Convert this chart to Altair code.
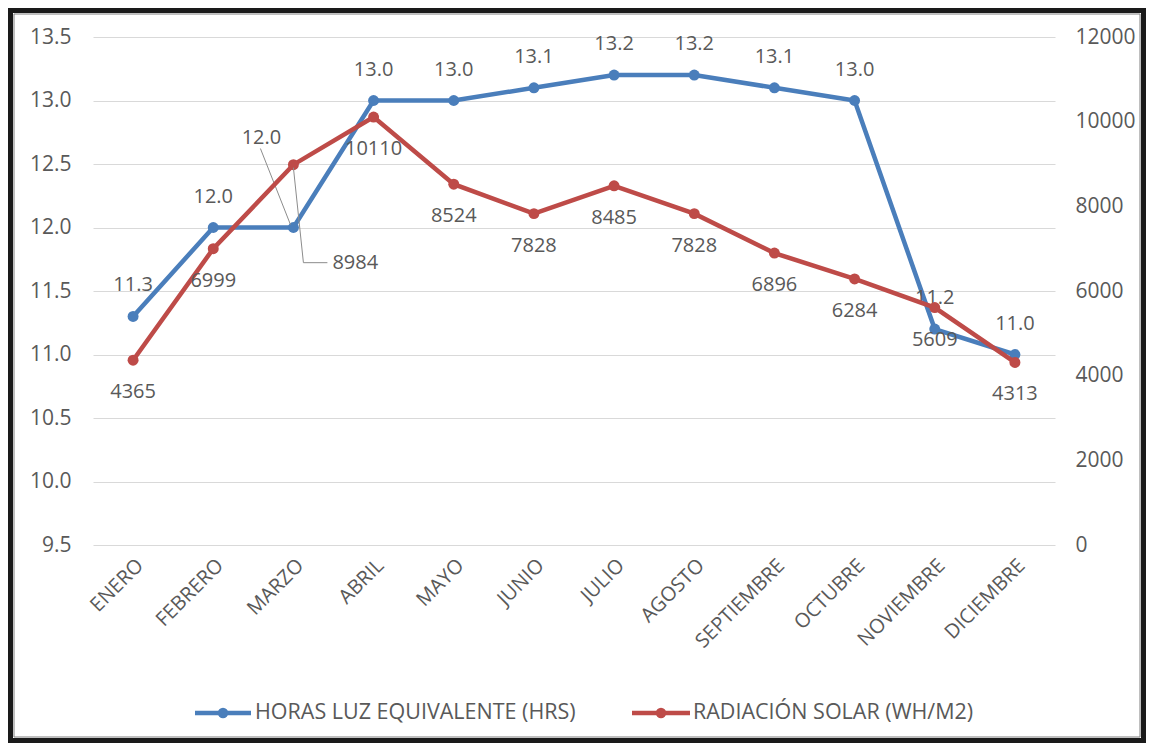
import altair as alt
import pandas as pd

meses = ["ENERO", "FEBRERO", "MARZO", "ABRIL", "MAYO", "JUNIO", "JULIO",
         "AGOSTO", "SEPTIEMBRE", "OCTUBRE", "NOVIEMBRE", "DICIEMBRE"]
horas = [11.3, 12.0, 12.0, 13.0, 13.0, 13.1, 13.2, 13.2, 13.1, 13.0, 11.2, 11.0]
radiacion = [4365, 6999, 8984, 10110, 8524, 7828, 8485, 7828, 6896, 6284, 5609, 4313]
left_ticks = [9.5, 10.0, 10.5, 11.0, 11.5, 12.0, 12.5, 13.0, 13.5]
right_ticks = [0, 2000, 4000, 6000, 8000, 10000, 12000]
serie_horas = "HORAS LUZ EQUIVALENTE (HRS)"
serie_rad = "RADIACIÓN SOLAR (WH/M2)"

df = pd.DataFrame({"mes": meses, "horas": horas, "rad": radiacion})

BLUE = "#4A7EBB"
RED = "#BE4B48"
GREY = "#595959"
FONT = "Open Sans"
FS_TICK = 21
FS_LBL = 20

x = alt.X("mes:N", sort=meses, title=None,
          axis=alt.Axis(labelAngle=-45, labelFontSize=20, labelColor=GREY,
                        labelFont=FONT, domain=False, ticks=False, labelPadding=10))

yL = alt.Y("horas:Q", title=None,
           scale=alt.Scale(domain=[9.5, 13.5], nice=False, zero=False),
           axis=alt.Axis(values=left_ticks, format=".1f", grid=True, gridColor="#D9D9D9",
                         gridWidth=1.2, domain=False, ticks=False, labelPadding=22,
                         labelFontSize=FS_TICK, labelColor=GREY, labelFont=FONT))
yR = alt.Y("rad:Q", title=None,
           scale=alt.Scale(domain=[0, 12000], nice=False),
           axis=alt.Axis(orient="right", values=right_ticks, format="d", grid=False,
                         domain=False, ticks=False, labelPadding=20,
                         labelFontSize=FS_TICK, labelColor=GREY, labelFont=FONT))

base = alt.Chart(df)
not_marzo = alt.datum.mes != "MARZO"
is_marzo = alt.datum.mes == "MARZO"

blue = alt.layer(
    base.mark_line(color=BLUE, strokeWidth=4.5).encode(x=x, y=yL),
    base.mark_circle(color=BLUE, size=120, opacity=1).encode(x=x, y=yL),
    base.mark_text(dy=-31, fontSize=FS_LBL, font=FONT, color=GREY).encode(
        x=x, y=yL, text=alt.Text("horas:Q", format=".1f")).transform_filter(not_marzo),
    base.mark_text(dx=-32, dy=-90, fontSize=FS_LBL, font=FONT, color=GREY).encode(
        x=x, y=yL, text=alt.Text("horas:Q", format=".1f")).transform_filter(is_marzo),
    base.mark_rule(color="#8C8C8C", strokeWidth=1, xOffset=-33, yOffset=-79,
                   x2Offset=-3, y2Offset=-3).encode(
        x=x, y=yL, x2=alt.X2("mes"), y2=alt.Y2("horas")).transform_filter(is_marzo),
)

red = alt.layer(
    base.mark_line(color=RED, strokeWidth=4.5).encode(x=x, y=yR),
    base.mark_circle(color=RED, size=120, opacity=1).encode(x=x, y=yR),
    base.mark_text(dy=32, fontSize=FS_LBL, font=FONT, color=GREY).encode(
        x=x, y=yR, text=alt.Text("rad:Q", format="d")).transform_filter(not_marzo),
    base.mark_text(dx=39, dy=98, align="left", fontSize=FS_LBL, font=FONT, color=GREY).encode(
        x=x, y=yR, text=alt.Text("rad:Q", format="d")).transform_filter(is_marzo),
    base.mark_rule(color="#8C8C8C", strokeWidth=1, xOffset=0, yOffset=3,
                   x2Offset=10, y2Offset=98).encode(
        x=x, y=yR, x2=alt.X2("mes"), y2=alt.Y2("rad")).transform_filter(is_marzo),
    base.mark_rule(color="#8C8C8C", strokeWidth=1, xOffset=10, yOffset=98,
                   x2Offset=34, y2Offset=98).encode(
        x=x, y=yR, x2=alt.X2("mes"), y2=alt.Y2("rad")).transform_filter(is_marzo),
)

one = alt.Chart(pd.DataFrame({"k": [0]}))

deco = alt.layer(
    # legend
    one.mark_rule(color=BLUE, strokeWidth=4.5).encode(
        x=alt.value(102), x2=alt.value(158), y=alt.value(676)),
    one.mark_circle(color=BLUE, size=110, opacity=1).encode(
        x=alt.value(130), y=alt.value(676)),
    one.mark_text(align="left", baseline="middle", fontSize=21.5, font=FONT, color=GREY,
                  text=serie_horas).encode(x=alt.value(162), y=alt.value(676)),
    one.mark_rule(color=RED, strokeWidth=4.5).encode(
        x=alt.value(539), x2=alt.value(597), y=alt.value(676)),
    one.mark_circle(color=RED, size=110, opacity=1).encode(
        x=alt.value(568), y=alt.value(676)),
    one.mark_text(align="left", baseline="middle", fontSize=21.5, font=FONT, color=GREY,
                  text=serie_rad).encode(x=alt.value(600), y=alt.value(676)),
    # frame
    one.mark_rect(fillOpacity=0, stroke="#1A1A1A", strokeWidth=5).encode(
        x=alt.value(-82.5), x2=alt.value(1050.5), y=alt.value(-26.5), y2=alt.value(703.5)),
    one.mark_rect(fillOpacity=0, stroke="#7F7F7F", strokeWidth=1).encode(
        x=alt.value(-79), x2=alt.value(1047), y=alt.value(-23), y2=alt.value(700)),
)

chart = alt.layer(blue, red, deco).resolve_scale(y="independent").properties(
    width=962, height=508,
    autosize=alt.AutoSizeParams(type="none"),
    padding={"left": 85, "top": 29, "right": 91, "bottom": 198},
    background="white",
).configure_view(stroke=None)

chart.save("out.html", embed_options={"renderer": "svg", "actions": False})
